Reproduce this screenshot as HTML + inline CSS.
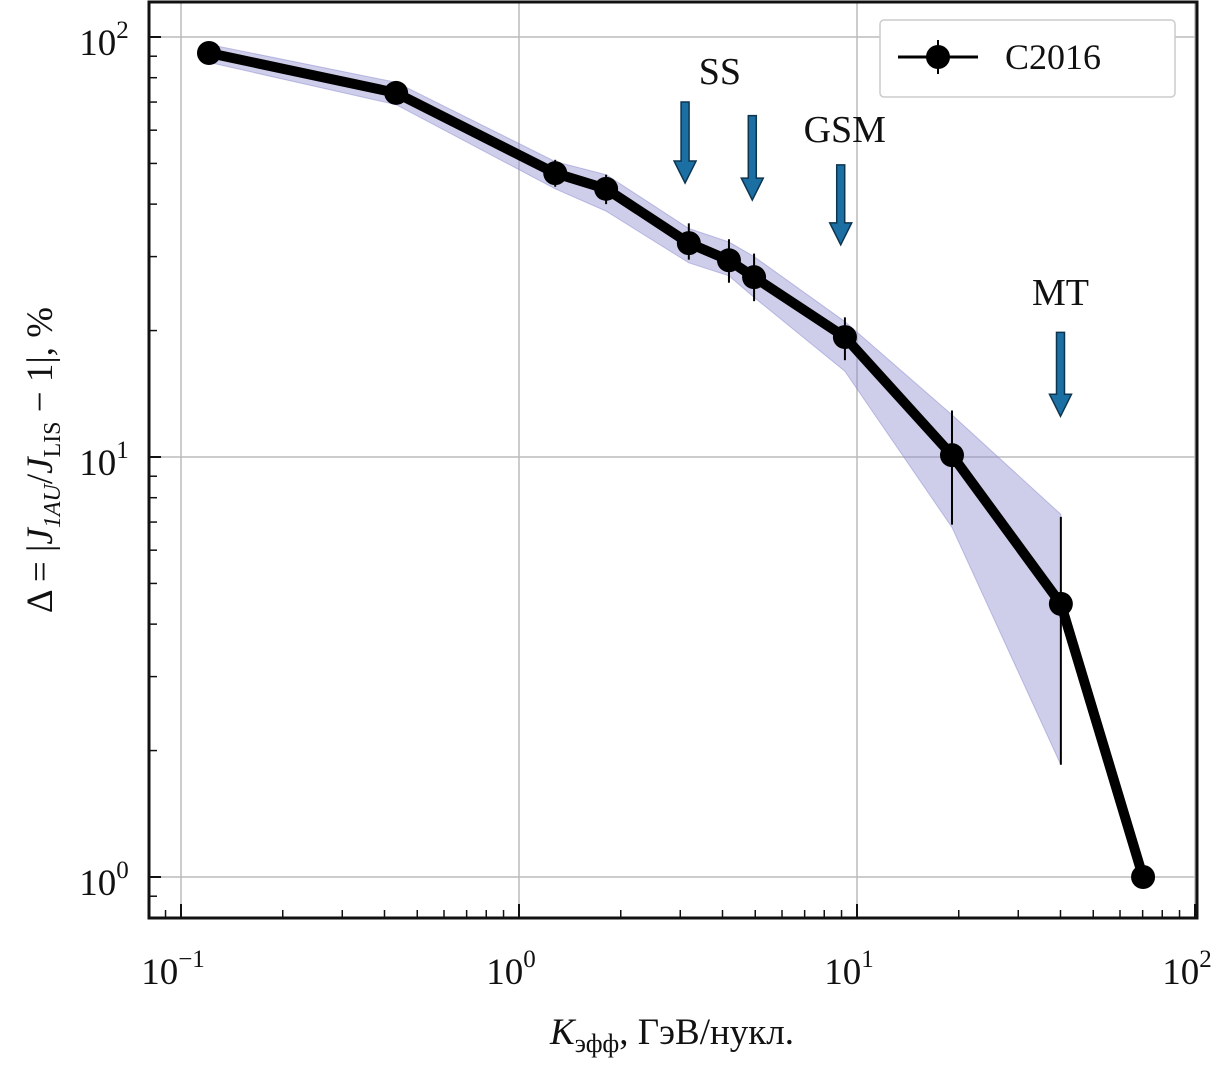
<!DOCTYPE html>
<html><head><meta charset="utf-8"><style>
body{margin:0;background:#fff}
svg text{font-family:"Liberation Serif",serif;fill:#111}
</style></head><body>
<svg id="chart" width="1225" height="1063" viewBox="0 0 1225 1063" xmlns="http://www.w3.org/2000/svg">
<g id="grid"></g>
<g id="band"></g>
<g id="series"></g>
<g id="ticks"></g>
<g id="arrows"></g>
<rect x="149" y="2" width="1048" height="916" fill="none" stroke="#111" stroke-width="3"/>
<g>
<rect x="880" y="20" width="295" height="77" rx="4" fill="#fff" stroke="#ccc" stroke-width="1.5"/>
<line x1="898" y1="57" x2="978" y2="57" stroke="#000" stroke-width="3"/>
<line x1="938" y1="40" x2="938" y2="74" stroke="#000" stroke-width="2"/>
<circle cx="938" cy="57" r="12" fill="#000"/>
<text x="1005" y="69" font-size="36">C2016</text>
</g>
<text transform="translate(52,460) rotate(-90)" text-anchor="middle" font-size="37">Δ = |<tspan font-style="italic">J</tspan><tspan font-size="24" dy="8" font-style="italic">1AU</tspan><tspan dy="-8">/</tspan><tspan font-style="italic">J</tspan><tspan font-size="24" dy="8">LIS</tspan><tspan dy="-8"> − 1|, %</tspan></text>
<text x="672" y="1044" text-anchor="middle" font-size="37"><tspan font-style="italic">K</tspan><tspan font-size="26" dy="8">эфф</tspan><tspan dy="-8">, ГэВ/нукл.</tspan></text>
</svg>
<script>
const kValues=[0.121,0.433,1.28,1.81,3.18,4.18,4.96,9.21,19.1,40.1,70.2];
const deltaValues=[91.6,73.6,47.4,43.5,32.3,29.4,26.8,19.3,10.1,4.47,1.0];
const errLow=[86,69,44,40,29.5,26,23.5,17,6.9,1.85,1.0];
const errHigh=[97,78,51,47,36,33,30.5,21.5,12.9,7.2,1.0];
const bandLow=[87,69,43.5,38.5,29,27,24,16,6.8,1.85];
const bandHigh=[96,78,50.5,47,35,32.5,30,21,12.6,7.3];
const xTickLabels=["-1","0","1","2"];
const yTickLabels=["0","1","2"];
const arrowK=[3.1,4.9,8.95,40];
const arrowTop=[70,65,49.6,19.8];
const arrowBot=[44.9,40.9,32,12.5];
const labels=[["SS",3.93,77.3],["GSM",9.2,56.2],["MT",40,23]];
const NS="http://www.w3.org/2000/svg";
const X=v=>519+338*Math.log10(v);
const Y=v=>877-420*Math.log10(v);
function mk(tag,attrs,parent){const e=document.createElementNS(NS,tag);for(const k in attrs)e.setAttribute(k,attrs[k]);parent.appendChild(e);return e;}
const grid=document.getElementById('grid'),ticks=document.getElementById('ticks');
xTickLabels.forEach(p=>{const x=X(Math.pow(10,+p));
const g=mk('line',{x1:x,y1:2,x2:x,y2:918,stroke:'#bbb','stroke-width':1.5},grid);


const t=mk('line',{x1:x,y1:918,x2:x,y2:904,stroke:'#111','stroke-width':2},ticks);


const tx=mk('text',{x:x-8,y:984,'text-anchor':'middle','font-size':37},ticks);


tx.innerHTML='10<tspan font-size="25" dy="-17">'+p.replace('-','−')+'</tspan>';
for(let m=2;m<10&&+p<2;m++){const xm=X(m*Math.pow(10,+p));const mt=mk('line',{x1:xm,y1:918,x2:xm,y2:910,stroke:'#111','stroke-width':1.5},ticks);

}
});
[0.08,0.09].forEach(v=>{const xm=X(v);const mt=mk('line',{x1:xm,y1:918,x2:xm,y2:910,stroke:'#111','stroke-width':1.5},ticks);

});
yTickLabels.forEach(p=>{const y=Y(Math.pow(10,+p));
const g=mk('line',{x1:149,y1:y,x2:1197,y2:y,stroke:'#bbb','stroke-width':1.5},grid);


const t=mk('line',{x1:149,y1:y,x2:161,y2:y,stroke:'#111','stroke-width':2},ticks);


const tx=mk('text',{x:104,y:y+18,'text-anchor':'middle','font-size':37},ticks);


tx.innerHTML='10<tspan font-size="25" dy="-17">'+p+'</tspan>';
for(let m=2;m<10&&+p<2;m++){const ym=Y(m*Math.pow(10,+p));const mt=mk('line',{x1:149,y1:ym,x2:157,y2:ym,stroke:'#111','stroke-width':1.5},ticks);

}
});
[0.8,0.9].forEach(v=>{const ym=Y(v);const mt=mk('line',{x1:149,y1:ym,x2:157,y2:ym,stroke:'#111','stroke-width':1.5},ticks);

});
const band=document.getElementById('band');
let pts=bandHigh.map((v,i)=>X(kValues[i])+','+Y(v));
pts=pts.concat(bandLow.map((v,i)=>X(kValues[i])+','+Y(v)).reverse());
const poly=mk('polygon',{points:pts.join(' '),fill:'#8a8ad0','fill-opacity':0.42,stroke:'#8a8ad0','stroke-opacity':0.5},band);


const s=document.getElementById('series');
const line=mk('polyline',{points:kValues.map((k,i)=>X(k)+','+Y(deltaValues[i])).join(' '),fill:'none',stroke:'#000','stroke-width':10,'stroke-linejoin':'round'},s);


kValues.forEach((k,i)=>{
const e=mk('line',{x1:X(k),y1:Y(errHigh[i]),x2:X(k),y2:Y(errLow[i]),stroke:'#000','stroke-width':2},s);


const c=mk('circle',{cx:X(k),cy:Y(deltaValues[i]),r:12,fill:'#000'},s);


});
const ar=document.getElementById('arrows');
arrowK.forEach((k,i)=>{const x=X(k),y1=Y(arrowTop[i]),y2=Y(arrowBot[i]);
const a=mk('path',{d:`M${x-4},${y1} L${x+4},${y1} L${x+4},${y2-22} L${x+11},${y2-22} L${x},${y2} L${x-11},${y2-22} L${x-4},${y2-22} Z`,fill:'#1c6fa3',stroke:'#0d3550','stroke-width':1.5},ar);

});
labels.forEach(l=>{const t=mk('text',{x:X(l[1]),y:Y(l[2]),'text-anchor':'middle','font-size':38},ar);


t.textContent=l[0];});
</script>
</body></html>
